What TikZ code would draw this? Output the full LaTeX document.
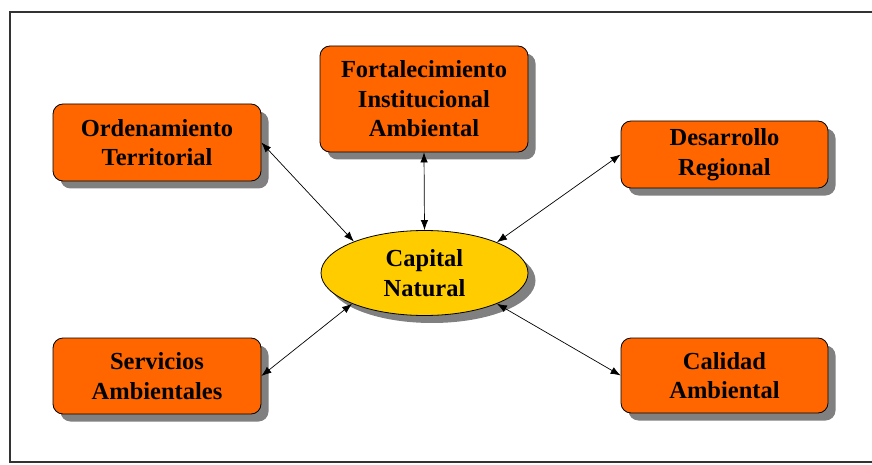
\documentclass[tikz,border=0pt]{standalone}
\usepackage{fontspec}
\setmainfont{Liberation Serif}
\usetikzlibrary{shapes.geometric,shadows,arrows.meta}
\definecolor{boxorange}{HTML}{FF6600}
\definecolor{ellyellow}{HTML}{FFCC00}
\begin{document}
\begin{tikzpicture}[x=1pt,y=-1pt,
  lbl/.style={font=\bfseries\fontsize{24.5}{29.5}\selectfont, align=center, text=black},
  shad/.style={drop shadow={shadow xshift=7.5pt, shadow yshift=-7.5pt, fill=black!50, opacity=1}},
  obox/.style={lbl, shape=rectangle, rounded corners=10pt, draw=black, line width=0.8pt, fill=boxorange, inner sep=0pt, minimum width=208pt, shad},
  ell/.style={lbl, shape=ellipse, draw=black, line width=0.8pt, fill=ellyellow, inner sep=0pt, minimum width=207pt, minimum height=85pt, shad},
  conn/.style={line width=0.7pt, {Latex[length=10pt,width=7.5pt]}-{Latex[length=10pt,width=7.5pt]}},
  frame/.style={draw=black!80, line width=1.3pt}]
\useasboundingbox (0,0) rectangle (872,465);
\draw[frame] (872,12) -- (10,12) -- (10,462) -- (872,462);
\node[obox, minimum height=77pt] (ord) at (157,142.5) {Ordenamiento\\Territorial};
\node[obox, minimum height=106pt] (fort) at (424,99) {Fortalecimiento\\Institucional\\Ambiental};
\node[obox, minimum height=67pt, minimum width=207pt] (des) at (724.5,154.5) {Desarrollo\\Regional};
\node[obox, minimum height=76pt] (serv) at (157,376) {Servicios\\Ambientales};
\node[obox, minimum height=75pt, minimum width=207pt] (cal) at (724.5,375.5) {Calidad\\Ambiental};
\node[ell] (cap) at (424.5,273) {Capital\\Natural};
\draw[conn] (ord.east) -- (cap.156);
\draw[conn] (fort.south) -- (cap.north);
\draw[conn] (des.west) -- (cap.23);
\draw[conn] (serv.east) -- (cap.203);
\draw[conn] (cal.west) -- (cap.337);
\end{tikzpicture}
\end{document}
